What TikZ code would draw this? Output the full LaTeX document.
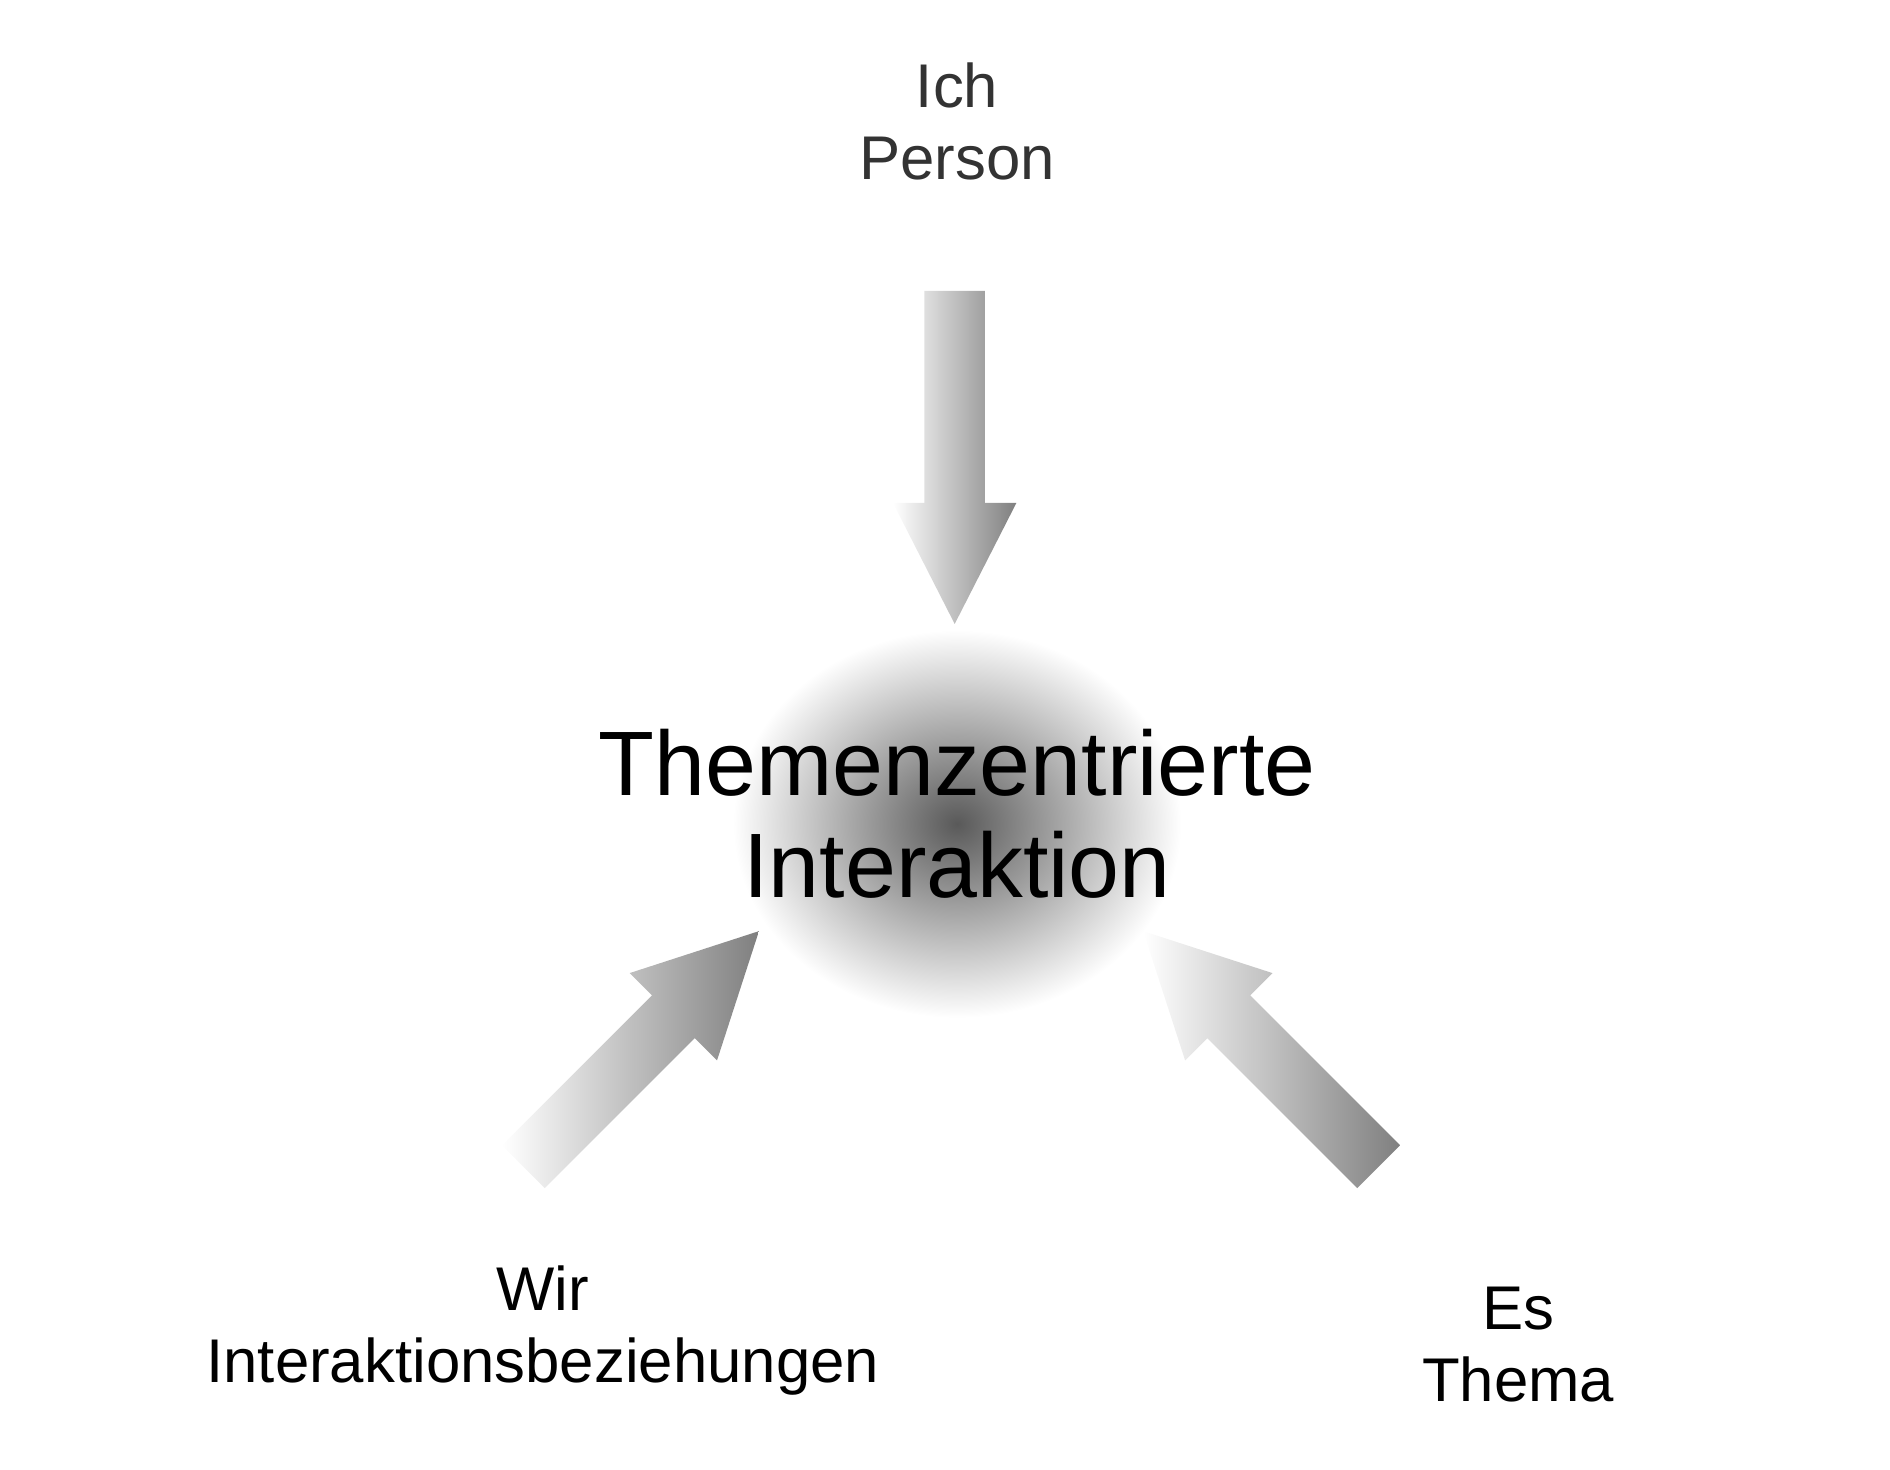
\documentclass[tikz,border=0pt]{standalone}
\usepackage{fontspec}
\setmainfont{Liberation Sans}
\begin{document}
\begin{tikzpicture}[x=0.02cm,y=-0.02cm,
  lbl/.style={font=\fontsize{29}{34}\selectfont, align=center, inner sep=0pt},
  arr/.style={left color=white, right color=black!50}]
\useasboundingbox (0,0) rectangle (1560,1213);
\shade[inner color=black!65, outer color=white] (790,680) ellipse (185 and 160);
\node[font=\fontsize{43}{48}\selectfont, align=center, inner sep=0pt] (tzi) at (790,672) {Themenzentrierte\\Interaktion};
\node[lbl, text=black!80] (ich) at (790,100) {Ich\\Person};
\node[lbl] (wir) at (448,1098) {Wir\\Interaktionsbeziehungen};
\node[lbl] (es) at (1253,1110) {Es\\Thema};
\foreach \px/\py/\r in {788/240/-90, 432/963/45, 1138/963/135}{
  \begin{scope}[shift={(\px,\py)}, rotate=\r]
    \shade[arr] (0,-25) -- (175,-25) -- (175,-51) -- (275,0) -- (175,51) -- (175,25) -- (0,25) -- cycle;
  \end{scope}
}
\end{tikzpicture}
\end{document}
